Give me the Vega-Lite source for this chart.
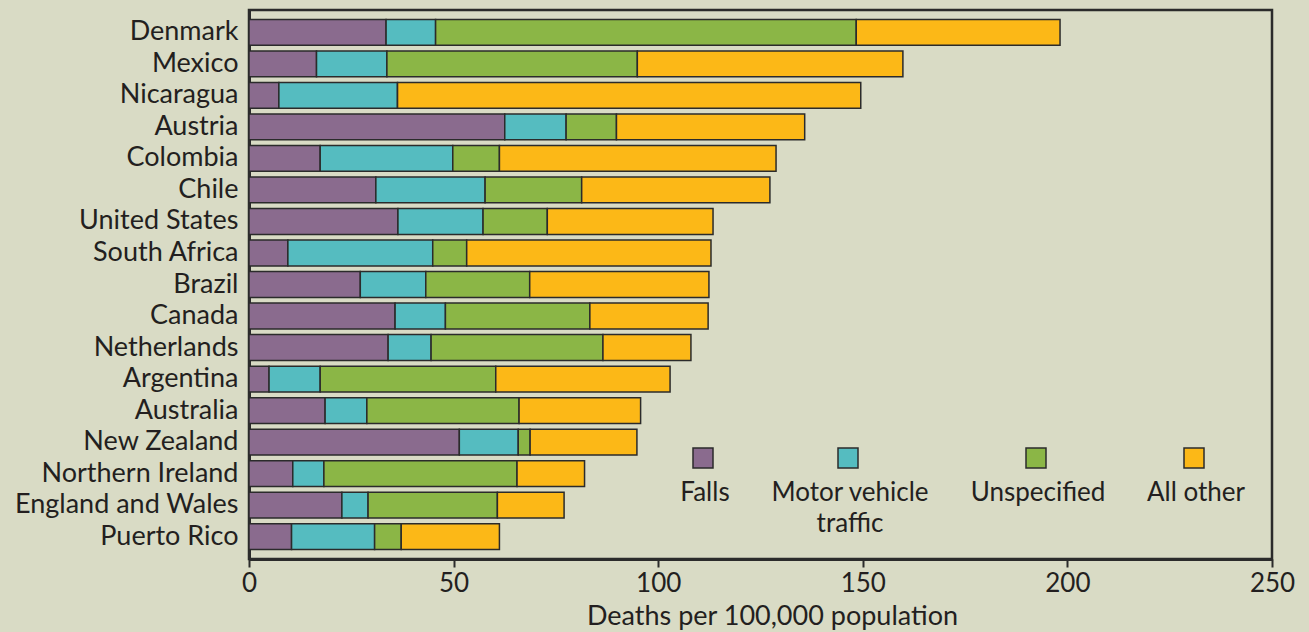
{
  "$schema": "https://vega.github.io/schema/vega-lite/v6.json",
  "width": 1023,
  "height": 549,
  "autosize": {"type": "none"},
  "padding": {"left": 249, "top": 10, "right": 37, "bottom": 73},
  "background": "#d9dbc5",
  "config": {
    "font": "Lato",
    "view": {"stroke": "#2b2b2b", "strokeWidth": 2.5},
    "axis": {"labelFont": "Lato", "titleFont": "Lato", "labelColor": "#231f20", "titleColor": "#231f20"}
  },
  "data": {
    "values": [
      {"country": "Denmark", "cause": "Falls", "k": 0, "value": 33.5},
      {"country": "Denmark", "cause": "Motor vehicle traffic", "k": 1, "value": 12.1},
      {"country": "Denmark", "cause": "Unspecified", "k": 2, "value": 102.8},
      {"country": "Denmark", "cause": "All other", "k": 3, "value": 49.8},
      {"country": "Mexico", "cause": "Falls", "k": 0, "value": 16.5},
      {"country": "Mexico", "cause": "Motor vehicle traffic", "k": 1, "value": 17.2},
      {"country": "Mexico", "cause": "Unspecified", "k": 2, "value": 61.2},
      {"country": "Mexico", "cause": "All other", "k": 3, "value": 64.9},
      {"country": "Nicaragua", "cause": "Falls", "k": 0, "value": 7.3},
      {"country": "Nicaragua", "cause": "Motor vehicle traffic", "k": 1, "value": 29.0},
      {"country": "Nicaragua", "cause": "Unspecified", "k": 2, "value": 0},
      {"country": "Nicaragua", "cause": "All other", "k": 3, "value": 113.2},
      {"country": "Austria", "cause": "Falls", "k": 0, "value": 62.5},
      {"country": "Austria", "cause": "Motor vehicle traffic", "k": 1, "value": 15.0},
      {"country": "Austria", "cause": "Unspecified", "k": 2, "value": 12.3},
      {"country": "Austria", "cause": "All other", "k": 3, "value": 46.0},
      {"country": "Colombia", "cause": "Falls", "k": 0, "value": 17.4},
      {"country": "Colombia", "cause": "Motor vehicle traffic", "k": 1, "value": 32.4},
      {"country": "Colombia", "cause": "Unspecified", "k": 2, "value": 11.4},
      {"country": "Colombia", "cause": "All other", "k": 3, "value": 67.6},
      {"country": "Chile", "cause": "Falls", "k": 0, "value": 31.0},
      {"country": "Chile", "cause": "Motor vehicle traffic", "k": 1, "value": 26.7},
      {"country": "Chile", "cause": "Unspecified", "k": 2, "value": 23.6},
      {"country": "Chile", "cause": "All other", "k": 3, "value": 46.0},
      {"country": "United States", "cause": "Falls", "k": 0, "value": 36.4},
      {"country": "United States", "cause": "Motor vehicle traffic", "k": 1, "value": 20.8},
      {"country": "United States", "cause": "Unspecified", "k": 2, "value": 15.7},
      {"country": "United States", "cause": "All other", "k": 3, "value": 40.5},
      {"country": "South Africa", "cause": "Falls", "k": 0, "value": 9.5},
      {"country": "South Africa", "cause": "Motor vehicle traffic", "k": 1, "value": 35.4},
      {"country": "South Africa", "cause": "Unspecified", "k": 2, "value": 8.3},
      {"country": "South Africa", "cause": "All other", "k": 3, "value": 59.7},
      {"country": "Brazil", "cause": "Falls", "k": 0, "value": 27.2},
      {"country": "Brazil", "cause": "Motor vehicle traffic", "k": 1, "value": 16.0},
      {"country": "Brazil", "cause": "Unspecified", "k": 2, "value": 25.4},
      {"country": "Brazil", "cause": "All other", "k": 3, "value": 43.8},
      {"country": "Canada", "cause": "Falls", "k": 0, "value": 35.7},
      {"country": "Canada", "cause": "Motor vehicle traffic", "k": 1, "value": 12.3},
      {"country": "Canada", "cause": "Unspecified", "k": 2, "value": 35.3},
      {"country": "Canada", "cause": "All other", "k": 3, "value": 28.9},
      {"country": "Netherlands", "cause": "Falls", "k": 0, "value": 34.0},
      {"country": "Netherlands", "cause": "Motor vehicle traffic", "k": 1, "value": 10.5},
      {"country": "Netherlands", "cause": "Unspecified", "k": 2, "value": 42.0},
      {"country": "Netherlands", "cause": "All other", "k": 3, "value": 21.5},
      {"country": "Argentina", "cause": "Falls", "k": 0, "value": 4.9},
      {"country": "Argentina", "cause": "Motor vehicle traffic", "k": 1, "value": 12.5},
      {"country": "Argentina", "cause": "Unspecified", "k": 2, "value": 42.9},
      {"country": "Argentina", "cause": "All other", "k": 3, "value": 42.6},
      {"country": "Australia", "cause": "Falls", "k": 0, "value": 18.6},
      {"country": "Australia", "cause": "Motor vehicle traffic", "k": 1, "value": 10.2},
      {"country": "Australia", "cause": "Unspecified", "k": 2, "value": 37.2},
      {"country": "Australia", "cause": "All other", "k": 3, "value": 29.7},
      {"country": "New Zealand", "cause": "Falls", "k": 0, "value": 51.4},
      {"country": "New Zealand", "cause": "Motor vehicle traffic", "k": 1, "value": 14.4},
      {"country": "New Zealand", "cause": "Unspecified", "k": 2, "value": 2.9},
      {"country": "New Zealand", "cause": "All other", "k": 3, "value": 26.1},
      {"country": "Northern Ireland", "cause": "Falls", "k": 0, "value": 10.7},
      {"country": "Northern Ireland", "cause": "Motor vehicle traffic", "k": 1, "value": 7.6},
      {"country": "Northern Ireland", "cause": "Unspecified", "k": 2, "value": 47.2},
      {"country": "Northern Ireland", "cause": "All other", "k": 3, "value": 16.5},
      {"country": "England and Wales", "cause": "Falls", "k": 0, "value": 22.7},
      {"country": "England and Wales", "cause": "Motor vehicle traffic", "k": 1, "value": 6.4},
      {"country": "England and Wales", "cause": "Unspecified", "k": 2, "value": 31.6},
      {"country": "England and Wales", "cause": "All other", "k": 3, "value": 16.3},
      {"country": "Puerto Rico", "cause": "Falls", "k": 0, "value": 10.4},
      {"country": "Puerto Rico", "cause": "Motor vehicle traffic", "k": 1, "value": 20.3},
      {"country": "Puerto Rico", "cause": "Unspecified", "k": 2, "value": 6.5},
      {"country": "Puerto Rico", "cause": "All other", "k": 3, "value": 24.0}
    ]
  },
  "mark": {"type": "bar", "stroke": "#2b2b2b", "strokeWidth": 1.5},
  "encoding": {
    "y": {
      "field": "country",
      "type": "nominal",
      "sort": null,
      "scale": {"paddingInner": 0.18, "paddingOuter": 0.3},
      "axis": {
        "title": null,
        "ticks": false,
        "labelFontSize": 27,
        "labelLimit": 300,
        "labelPadding": 11,
        "domainColor": "#2b2b2b",
        "domainWidth": 3
      }
    },
    "x": {
      "field": "value",
      "type": "quantitative",
      "stack": "zero",
      "scale": {"domain": [0, 250], "nice": false},
      "axis": {
        "title": "Deaths per 100,000 population",
        "values": [0, 50, 100, 150, 200, 250],
        "grid": false,
        "labelFontSize": 26,
        "titleFontSize": 27,
        "titleFontWeight": "normal",
        "titleX": 523,
        "titleAlign": "center",
        "labelPadding": 3,
        "titlePadding": 7,
        "tickSize": 8,
        "tickWidth": 2,
        "tickColor": "#2b2b2b",
        "domainColor": "#2b2b2b",
        "domainWidth": 3,
        "labelFlush": false
      }
    },
    "order": {"field": "k", "type": "quantitative"},
    "color": {
      "field": "cause",
      "type": "nominal",
      "scale": {
        "domain": ["Falls", "Motor vehicle traffic", "Unspecified", "All other"],
        "range": ["#8a6b8e", "#55bcc0", "#8bb646", "#fcb817"]
      },
      "legend": {
        "title": null,
        "orient": "none",
        "legendX": 441,
        "legendY": 435,
        "direction": "horizontal",
        "columns": 4,
        "columnPadding": 40,
        "padding": 0,
        "symbolType": "square",
        "symbolSize": 400,
        "symbolOpacity": 1,
        "symbolStrokeColor": "#2b2b2b",
        "symbolStrokeWidth": 1.5,
        "labelFont": "Lato",
        "labelFontSize": 26,
        "labelColor": "#231f20",
        "labelAlign": "center",
        "labelBaseline": "middle",
        "labelOffset": -11,
        "labelLimit": 300,
        "labelExpr": "datum.label == 'Motor vehicle traffic' ? ['Motor vehicle', 'traffic'] : [datum.label, ' ']",
        "encode": {"labels": {"update": {"dy": {"value": 35}, "lineHeight": {"value": 31}}}}
      }
    }
  }
}
